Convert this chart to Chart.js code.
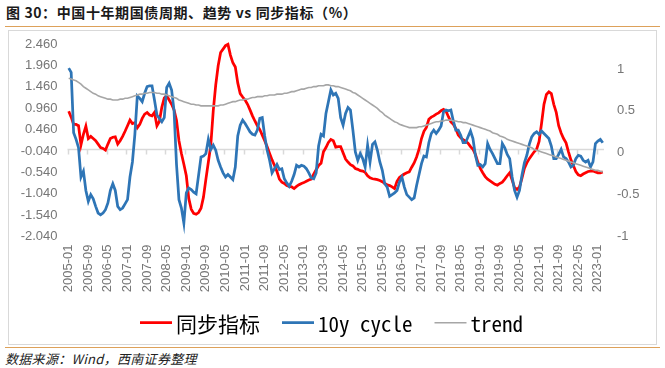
<!DOCTYPE html>
<html><head><meta charset="utf-8">
<script src="https://cdn.jsdelivr.net/npm/chart.js@4.4.0/dist/chart.umd.min.js"></script>
<style>
html,body{margin:0;padding:0;background:#fff;}
body{width:665px;height:368px;position:relative;overflow:hidden;font-family:"Noto Sans CJK SC","Liberation Sans",sans-serif;}
#title{position:absolute;left:6px;top:2px;font-size:14px;font-weight:bold;color:#1a1a1a;white-space:nowrap;letter-spacing:0.6px;}
.rule{position:absolute;left:5px;width:655px;height:0;border-top:1.5px solid #DDA15A;}
#box{position:absolute;left:8px;top:30px;width:649px;height:315px;box-sizing:border-box;border:1px solid #D9D9D9;}
#wrap{position:absolute;left:8px;top:30px;width:649px;height:315px;}
#src{position:absolute;left:5px;top:349px;font-size:13px;font-style:italic;color:#222;white-space:nowrap;letter-spacing:0.3px;}
</style></head>
<body>
<div id="title">图 30：中国十年期国债周期、趋势 vs 同步指标（%）</div>
<div class="rule" style="top:26px"></div>
<div id="box"></div>
<div id="wrap"><canvas id="c" width="649" height="315"></canvas></div>
<div class="rule" style="top:347px"></div>
<div id="src">数据来源：Wind，西南证券整理</div>
<script>
// Monthly series, 2005-01 .. 2023-03
const startYear = 2005;
const tickStep = 8;
const leftTicks = [-2.04,-1.54,-1.04,-0.54,-0.04,0.46,0.96,1.46,1.96,2.46];
const rightTicks = [-1,-0.5,0,0.5,1];
const seriesNames = ['同步指标','10y cycle','trend'];

// left axis
const syncIndex = [
0.89,0.75,0.58,0.58,0.55,0.10,0.35,0.54,0.25,0.30,0.25,0.20,
0.12,0.04,0.02,-0.02,0.12,0.25,0.28,0.29,0.12,0.20,0.30,0.42,
0.55,0.68,0.60,0.62,0.50,0.58,0.72,0.82,0.86,0.80,0.78,0.86,
0.55,0.65,0.98,1.20,1.25,1.15,1.05,0.92,0.68,0.20,-0.10,-0.35,
-0.62,-1.15,-1.40,-1.50,-1.52,-1.48,-1.38,-1.12,-0.70,-0.30,0.10,0.90,
1.50,1.95,2.26,2.34,2.42,2.45,2.20,2.02,1.92,1.55,1.30,1.22,
1.15,1.05,0.92,0.78,0.66,0.55,0.46,0.33,0.20,0.06,-0.10,-0.25,
-0.38,-0.52,-0.70,-0.77,-0.80,-0.85,-0.87,-0.88,-0.92,-0.87,-0.83,-0.80,
-0.78,-0.75,-0.72,-0.70,-0.58,-0.48,-0.38,-0.33,-0.06,0.04,0.16,0.23,
0.20,0.05,0.06,0.06,-0.08,-0.23,-0.30,-0.36,-0.39,-0.45,-0.47,-0.50,
-0.51,-0.54,-0.62,-0.67,-0.69,-0.70,-0.71,-0.73,-0.76,-0.80,-0.83,-0.85,
-0.88,-0.92,-0.75,-0.66,-0.62,-0.58,-0.55,-0.53,-0.42,-0.32,-0.18,0.00,
0.25,0.42,0.51,0.70,0.75,0.78,0.82,0.85,0.90,0.93,0.89,0.76,
0.64,0.58,0.48,0.33,0.27,0.22,0.19,0.14,0.06,0.00,-0.12,-0.30,
-0.45,-0.55,-0.64,-0.70,-0.74,-0.78,-0.82,-0.84,-0.80,-0.77,-0.70,-0.62,
-0.55,-0.72,-0.90,-0.94,-0.88,-0.68,-0.45,-0.32,-0.22,-0.14,-0.06,0.00,
0.18,0.60,1.05,1.28,1.34,1.30,1.05,0.86,0.55,0.38,0.25,0.15,
-0.06,-0.25,-0.38,-0.52,-0.60,-0.62,-0.58,-0.55,-0.52,-0.51,-0.51,-0.53,
-0.55,-0.55,-0.53
];

// right axis
const cycle10y = [
1.01,0.96,0.24,0.16,0.06,-0.29,-0.22,-0.45,-0.58,-0.50,-0.55,-0.64,
-0.72,-0.74,-0.72,-0.68,-0.60,-0.45,-0.37,-0.45,-0.64,-0.68,-0.66,-0.61,
-0.56,-0.29,-0.11,0.22,0.68,0.65,0.61,0.71,0.79,0.80,0.80,0.63,
0.45,0.41,0.37,0.42,0.78,0.83,0.75,0.50,-0.14,-0.56,-0.66,-0.84,
-0.48,-0.42,-0.44,-0.47,-0.49,-0.27,-0.05,-0.04,-0.01,0.16,0.04,0.09,
0.03,-0.09,-0.17,-0.24,-0.29,-0.26,-0.29,-0.32,-0.17,0.20,0.33,0.39,
0.35,0.30,0.25,0.22,0.21,0.27,0.41,0.42,0.20,0.03,-0.09,-0.24,
-0.19,-0.14,-0.20,-0.19,-0.31,-0.36,-0.40,-0.34,-0.26,-0.15,-0.17,-0.15,
-0.16,-0.19,-0.24,-0.30,-0.31,-0.24,0.08,0.22,0.20,0.47,0.61,0.75,
0.69,0.71,0.65,0.42,0.33,0.47,0.54,0.51,0.27,0.01,-0.09,-0.01,
-0.07,-0.17,0.09,-0.11,0.10,0.13,0.03,-0.11,-0.21,-0.37,-0.41,-0.52,
-0.50,-0.48,-0.45,-0.35,-0.29,-0.41,-0.50,-0.53,-0.56,-0.54,-0.39,-0.26,
-0.13,-0.04,-0.05,0.12,0.23,0.27,0.23,0.27,0.32,0.49,0.51,0.50,
0.51,0.38,0.27,0.27,0.21,0.12,0.12,0.19,0.26,0.17,-0.03,-0.15,
-0.14,-0.17,-0.13,0.11,0.04,-0.01,-0.07,-0.13,-0.13,0.11,0.06,-0.02,
-0.07,-0.29,-0.45,-0.53,-0.45,-0.27,-0.12,-0.03,0.10,0.19,0.23,0.25,
0.22,0.26,0.23,0.20,0.17,0.08,-0.07,-0.07,-0.02,0.04,-0.05,-0.07,
-0.11,-0.17,-0.15,-0.07,-0.03,-0.04,-0.09,-0.11,-0.09,-0.17,-0.11,0.11,
0.14,0.16,0.12
];

// right axis
const trend = [
0.89,0.88,0.87,0.86,0.84,0.82,0.79,0.77,0.75,0.73,0.71,0.70,
0.68,0.67,0.66,0.65,0.64,0.64,0.63,0.63,0.63,0.64,0.64,0.65,
0.65,0.66,0.67,0.68,0.69,0.70,0.70,0.71,0.71,0.72,0.72,0.72,
0.71,0.71,0.70,0.70,0.69,0.68,0.67,0.66,0.65,0.63,0.62,0.61,
0.60,0.59,0.58,0.58,0.57,0.57,0.56,0.56,0.56,0.56,0.56,0.56,
0.56,0.56,0.57,0.57,0.58,0.59,0.60,0.61,0.61,0.62,0.63,0.63,
0.64,0.64,0.65,0.66,0.66,0.67,0.67,0.67,0.68,0.68,0.69,0.69,
0.69,0.70,0.70,0.70,0.71,0.71,0.72,0.73,0.73,0.74,0.75,0.76,
0.76,0.77,0.78,0.78,0.79,0.79,0.80,0.80,0.80,0.81,0.81,0.80,
0.80,0.79,0.79,0.78,0.77,0.76,0.75,0.74,0.72,0.71,0.69,0.67,
0.65,0.63,0.61,0.59,0.57,0.55,0.53,0.50,0.48,0.45,0.43,0.41,
0.39,0.37,0.36,0.34,0.33,0.32,0.31,0.30,0.30,0.30,0.30,0.31,
0.31,0.32,0.33,0.34,0.35,0.36,0.37,0.37,0.38,0.38,0.39,0.39,
0.39,0.38,0.38,0.37,0.37,0.36,0.36,0.35,0.34,0.33,0.32,0.31,
0.30,0.29,0.28,0.27,0.26,0.24,0.23,0.22,0.20,0.19,0.18,0.16,
0.15,0.14,0.13,0.12,0.11,0.10,0.09,0.08,0.07,0.06,0.04,0.03,
0.02,0.01,0.00,-0.01,-0.02,-0.03,-0.04,-0.05,-0.06,-0.07,-0.08,-0.09,
-0.10,-0.11,-0.12,-0.13,-0.14,-0.15,-0.16,-0.17,-0.18,-0.19,-0.20,-0.21,
-0.21,-0.22,-0.23
];

const categories = [];
for (let k = 0; k < syncIndex.length; k++) {
  const y = startYear + Math.floor(k / 12), m = (k % 12) + 1;
  categories.push(y + '-' + (m < 10 ? '0' + m : '' + m));
}

const axisFont = {family: '"Liberation Sans", Arial, sans-serif', size: 13};
const axisColor = '#767676';
const legendFont = '21px "Noto Sans Mono CJK SC", "Noto Sans CJK SC", sans-serif';

const zeroLine = {
  id: 'zeroLine',
  beforeDatasetsDraw(chart) {
    const {ctx, chartArea: a, scales} = chart;
    const x = scales.x, y = scales.y;
    const yy = Math.round(y.getPixelForValue(0)) + 0.5;
    const half = (x.getPixelForValue(1) - x.getPixelForValue(0)) / 2;
    ctx.save();
    ctx.strokeStyle = '#D9D9D9';
    ctx.lineWidth = 1.5;
    ctx.beginPath();
    ctx.moveTo(a.left, yy); ctx.lineTo(a.right, yy);
    for (let i = 0; i < categories.length; i += tickStep) {
      const px = Math.round(x.getPixelForValue(i) - half) + 0.5;
      ctx.moveTo(px, yy); ctx.lineTo(px, yy + 5);
    }
    ctx.stroke();
    ctx.restore();
  }
};

// legend drawn from the chart's own datasets (line swatch + label)
const lineLegend = {
  id: 'lineLegend',
  afterDraw(chart) {
    const ctx = chart.ctx;
    const sw = 32, gapIn = 4, gapOut = 22, cy = 292.7;
    ctx.save();
    ctx.font = legendFont;
    const items = chart.data.datasets.map(d => ({d, w: ctx.measureText(d.label).width}));
    const total = items.reduce((s, it) => s + sw + gapIn + it.w, 0) + gapOut * (items.length - 1);
    let x = chart.width / 2 - 1 - total / 2;
    ctx.textBaseline = 'middle';
    ctx.textAlign = 'left';
    items.forEach(it => {
      ctx.strokeStyle = it.d.borderColor;
      ctx.lineWidth = it.d.borderWidth;
      ctx.beginPath(); ctx.moveTo(x, cy); ctx.lineTo(x + sw, cy); ctx.stroke();
      ctx.fillStyle = '#000';
      ctx.fillText(it.d.label, x + sw + gapIn, cy + 1);
      x += sw + gapIn + it.w + gapOut;
    });
    ctx.restore();
  }
};

const noPad = s => { s.paddingTop = 0; s.paddingBottom = 0; s.paddingLeft = 0; s.paddingRight = 0; };

new Chart(document.getElementById('c'), {
  type: 'line',
  data: {
    labels: categories,
    datasets: [
      {label: seriesNames[0], data: syncIndex, yAxisID: 'y', borderColor: '#FF0000', backgroundColor: '#FF0000', borderWidth: 2.75, pointRadius: 0, tension: 0, order: 3},
      {label: seriesNames[1], data: cycle10y, yAxisID: 'y2', borderColor: '#2E75B6', backgroundColor: '#2E75B6', borderWidth: 2.75, pointRadius: 0, tension: 0, order: 2},
      {label: seriesNames[2], data: trend, yAxisID: 'y2', borderColor: '#A6A6A6', backgroundColor: '#A6A6A6', borderWidth: 1.6, pointRadius: 0, tension: 0, order: 1}
    ]
  },
  options: {
    responsive: false,
    devicePixelRatio: 1,
    animation: false,
    layout: {padding: {top: 9.7, bottom: 52.3, left: 0, right: 0}},
    plugins: {
      tooltip: {enabled: false},
      legend: {display: false}
    },
    scales: {
      x: {
        type: 'category',
        offset: true,
        grid: {display: false, drawTicks: false},
        border: {display: false},
        afterBuildTicks: s => { s.ticks = s.ticks.filter(t => t.value % tickStep === 0); },
        afterFit: s => { s.height = 56.2; noPad(s); },
        ticks: {autoSkip: false, minRotation: 90, maxRotation: 90, padding: 8, color: axisColor, font: axisFont}
      },
      y: {
        position: 'left',
        min: -2.04, max: 2.56,
        grid: {display: false, drawTicks: false},
        border: {display: false},
        afterBuildTicks: s => { s.ticks = leftTicks.map(v => ({value: v})); },
        afterFit: s => { s.width = 59.5; noPad(s); },
        ticks: {autoSkip: false, padding: 10, color: axisColor, font: axisFont, callback: v => Number(v).toFixed(3)}
      },
      y2: {
        position: 'right',
        min: -1, max: 1.35,
        grid: {display: false, drawTicks: false},
        border: {display: false},
        afterBuildTicks: s => { s.ticks = rightTicks.map(v => ({value: v})); },
        afterFit: s => { s.width = 53; noPad(s); },
        ticks: {autoSkip: false, padding: 13, color: axisColor, font: axisFont, callback: v => String(v)}
      }
    }
  },
  plugins: [zeroLine, lineLegend]
});
</script>
</body></html>
